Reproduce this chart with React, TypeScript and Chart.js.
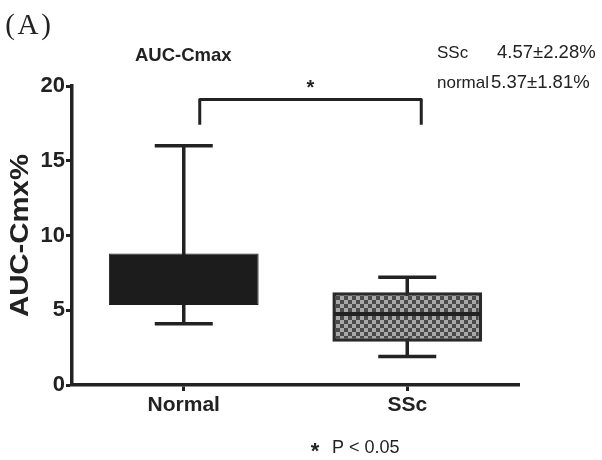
import React, { useEffect, useRef } from "react";
import { Chart, registerables } from "chart.js";

Chart.register(...registerables);

const categories = ["Normal", "SSc"];
const boxLow = [5.35, 2.9];
const boxHigh = [8.8, 6.2];
const medians = [7.0, 4.75];
const whiskerLow = [4.1, 1.9];
const whiskerHigh = [16.0, 7.2];
const yTicks = [0, 5, 10, 15, 20];
const statsLabels = ["SSc", "normal"];
const statsValues = ["4.57±2.28%", "5.37±1.81%"];
const bracketTop = 19.1;
const bracketEnd = 17.4;

const INK = "#222222";
const BOX_DARK = "#1c1c1c";
const SANS = "'Liberation Sans', Arial, sans-serif";

function makePattern(): CanvasPattern | string {
  const c = document.createElement("canvas");
  c.width = 8;
  c.height = 8;
  const g = c.getContext("2d");
  if (!g) return "#777";
  g.fillStyle = "#a8a8a8";
  g.fillRect(0, 0, 8, 8);
  g.fillStyle = "#4a4a4a";
  g.fillRect(0, 0, 4, 4);
  g.fillRect(4, 4, 4, 4);
  const ctx = document.createElement("canvas").getContext("2d");
  return ctx ? (ctx.createPattern(c, "repeat") as CanvasPattern) : "#777";
}

export default function App() {
  const ref = useRef<HTMLCanvasElement | null>(null);

  useEffect(() => {
    if (!ref.current) return;
    const pattern = makePattern();
    const medianColors = [BOX_DARK, INK];

    const whiskerPlugin = {
      id: "whiskers",
      beforeDatasetsDraw(chart: any) {
        const { ctx, scales } = chart;
        const x = scales.x;
        const y = scales.y;
        ctx.save();
        ctx.strokeStyle = INK;
        ctx.lineWidth = 3.5;
        ctx.lineCap = "butt";
        categories.forEach((_, i) => {
          const cx = x.getPixelForValue(i);
          const yl = y.getPixelForValue(whiskerLow[i]);
          const yh = y.getPixelForValue(whiskerHigh[i]);
          const half = 29;
          ctx.beginPath();
          ctx.moveTo(cx, yl);
          ctx.lineTo(cx, yh);
          ctx.moveTo(cx - half, yl);
          ctx.lineTo(cx + half, yl);
          ctx.moveTo(cx - half, yh);
          ctx.lineTo(cx + half, yh);
          ctx.stroke();
        });
        ctx.restore();
      },
      afterDatasetsDraw(chart: any) {
        const { ctx, scales } = chart;
        const x = scales.x;
        const y = scales.y;
        const meta = chart.getDatasetMeta(0);
        ctx.save();
        ctx.lineWidth = 4;
        categories.forEach((_, i) => {
          const bar = meta.data[i];
          const w = bar.width;
          const cx = x.getPixelForValue(i);
          const ym = y.getPixelForValue(medians[i]);
          ctx.strokeStyle = medianColors[i];
          ctx.beginPath();
          ctx.moveTo(cx - w / 2 + 2, ym);
          ctx.lineTo(cx + w / 2 - 2, ym);
          ctx.stroke();
        });
        // significance bracket
        const x0 = x.getPixelForValue(0) + 16;
        const x1 = x.getPixelForValue(1) + 14;
        const yt = y.getPixelForValue(bracketTop);
        const ye = y.getPixelForValue(bracketEnd);
        ctx.strokeStyle = INK;
        ctx.lineWidth = 3;
        ctx.lineJoin = "round";
        ctx.beginPath();
        ctx.moveTo(x0, ye);
        ctx.lineTo(x0, yt);
        ctx.lineTo(x1, yt);
        ctx.lineTo(x1, ye);
        ctx.stroke();
        ctx.fillStyle = INK;
        ctx.font = `bold 20px ${SANS}`;
        ctx.textAlign = "center";
        ctx.textBaseline = "alphabetic";
        ctx.fillText("*", (x0 + x1) / 2, yt - 5);
        ctx.restore();
      },
    };

    const textPlugin = {
      id: "texts",
      afterDraw(chart: any) {
        const { ctx, chartArea } = chart;
        ctx.save();
        ctx.fillStyle = INK;
        ctx.textBaseline = "alphabetic";
        // (A)
        ctx.font = `29px 'Liberation Serif', 'Times New Roman', serif`;
        ctx.textAlign = "center";
        ctx.fillText("(", 10, 34);
        ctx.fillText("A", 28, 34);
        ctx.fillText(")", 46, 34);
        // title
        ctx.font = `bold 18.5px ${SANS}`;
        ctx.textAlign = "left";
        ctx.fillText("AUC-Cmax", 135, 61);
        // stats
        ctx.font = `17px ${SANS}`;
        ctx.fillText(statsLabels[0], 437, 58);
        ctx.fillText(statsLabels[1], 437, 88);
        ctx.font = `18.5px ${SANS}`;
        ctx.fillText(statsValues[0], 497, 58);
        ctx.fillText(statsValues[1], 491, 88);
        // y title
        ctx.save();
        ctx.translate(28, (chartArea.top + chartArea.bottom) / 2);
        ctx.rotate(-Math.PI / 2);
        ctx.font = `bold 25px ${SANS}`;
        ctx.textAlign = "center";
        const label = "AUC-Cmx%";
        const mw = ctx.measureText(label).width;
        ctx.scale(163 / mw, 1);
        ctx.fillText(label, 0, 0);
        ctx.restore();
        // footnote
        ctx.font = `bold 22px ${SANS}`;
        ctx.textAlign = "center";
        ctx.fillText("*", 315, 458);
        ctx.font = `18px ${SANS}`;
        ctx.textAlign = "left";
        ctx.fillText("P < 0.05", 332, 453);
        ctx.restore();
      },
    };

    const chart = new Chart(ref.current, {
      type: "bar",
      data: {
        labels: categories,
        datasets: [
          {
            data: categories.map((_, i) => [boxLow[i], boxHigh[i]]),
            backgroundColor: [BOX_DARK, pattern as any],
            borderColor: [BOX_DARK, "#2a2a2a"],
            borderWidth: [1, 3.5],
            borderSkipped: false,
            barPercentage: 0.67,
            categoryPercentage: 1,
          },
        ],
      },
      options: {
        responsive: false,
        animation: false,
        devicePixelRatio: 1,
        layout: { padding: { top: 86, right: 83, bottom: 0, left: 0 } },
        plugins: {
          legend: { display: false },
          tooltip: { enabled: false },
          title: { display: false },
        },
        scales: {
          x: {
            type: "category",
            offset: true,
            afterFit: (s: any) => {
              s.height = 75;
            },
            grid: {
              offset: false,
              drawOnChartArea: false,
              drawTicks: true,
              tickLength: 6,
              tickWidth: 3,
              color: INK,
            },
            border: { display: true, color: INK, width: 3.5 },
            ticks: {
              color: INK,
              padding: 2,
              font: { family: SANS, size: 21, weight: "bold" },
            },
          },
          y: {
            min: 0,
            max: 20,
            afterFit: (s: any) => {
              s.width = 72;
            },
            afterBuildTicks: (s: any) => {
              s.ticks = yTicks.map((v) => ({ value: v }));
            },
            grid: {
              drawOnChartArea: false,
              drawTicks: true,
              tickLength: 6,
              tickWidth: 3,
              color: INK,
            },
            border: { display: true, color: INK, width: 3.5 },
            ticks: {
              color: INK,
              padding: 1,
              font: { family: SANS, size: 22, weight: "bold" },
            },
          },
        },
      },
      plugins: [whiskerPlugin, textPlugin],
    } as any);

    return () => chart.destroy();
  }, []);

  return (
    <div style={{ position: "absolute", left: 0, top: 0, width: 602, height: 460, background: "#fff" }}>
      <canvas ref={ref} width={602} height={460} style={{ display: "block", width: 602, height: 460 }} />
    </div>
  );
}
